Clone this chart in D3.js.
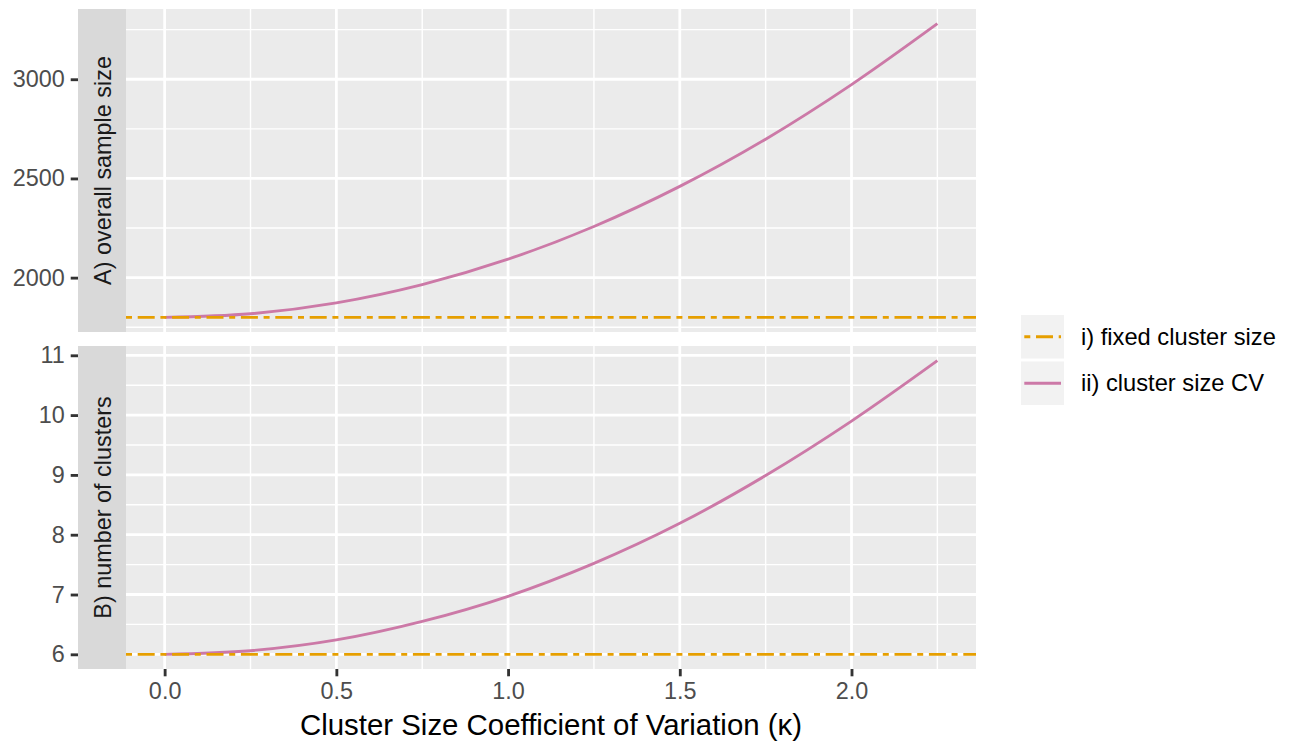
<!DOCTYPE html>
<html>
<head>
<meta charset="utf-8">
<script src="https://cdn.jsdelivr.net/npm/d3@7"></script>
<style>
  html, body { margin: 0; padding: 0; background: #ffffff; }
  svg { display: block; font-family: "Liberation Sans", Arial, Helvetica, sans-serif; }
</style>
</head>
<body>
<svg id="chart" width="1294" height="742"></svg>
<script>
// ---- data ----
const kappa = [0, 0.25, 0.5, 0.75, 1.0, 1.25, 1.5, 1.75, 2.0, 2.25];
const sampleSizeCV = [1800, 1818, 1873, 1965, 2093, 2258, 2460, 2698, 2973, 3280];
const clustersCV = [6, 6.06, 6.24, 6.55, 6.97, 7.52, 8.19, 8.99, 9.90, 10.91];
const sampleSizeFixed = 1800;
const clustersFixed = 6;
const xTicks = [0, 0.5, 1.0, 1.5, 2.0];
const xMinor = [0.25, 0.75, 1.25, 1.75, 2.25];
const topTicks = [2000, 2500, 3000];
const topMinor = [1750, 2250, 2750, 3250];
const bottomTicks = [6, 7, 8, 9, 10, 11];
const bottomMinor = [6.5, 7.5, 8.5, 9.5, 10.5];
const panelLabels = ["A) overall sample size", "B) number of clusters"];
const legendLabels = ["i) fixed cluster size", "ii) cluster size CV"];
const seriesColors = ["#E69F00", "#CC79A7"];
const xTitle = "Cluster Size Coefficient of Variation (\u03BA)";

// ---- layout ----
const svg = d3.select("#chart");
const panelL = 126, panelR = 976;
const panels = [
  { top: 9, bottom: 332, cv: sampleSizeCV, fixed: sampleSizeFixed, ticks: topTicks, minor: topMinor, fmt: d3.format("d"), label: panelLabels[0] },
  { top: 346, bottom: 669, cv: clustersCV, fixed: clustersFixed, ticks: bottomTicks, minor: bottomMinor, fmt: d3.format("d"), label: panelLabels[1] }
];
const dash = "6 5.7 17 5.7";
const fontSize = 23.4;

function expand(lo, hi) { const p = (hi - lo) * 0.05; return [lo - p, hi + p]; }

const xDom = expand(d3.min(kappa), d3.max(kappa));
const x = d3.scaleLinear().domain(xDom).range([panelL, panelR]);

panels.forEach(p => {
  const all = p.cv.concat([p.fixed]);
  const y = d3.scaleLinear().domain(expand(d3.min(all), d3.max(all))).range([p.bottom, p.top]);
  const g = svg.append("g");
  // background
  g.append("rect").attr("x", panelL).attr("y", p.top).attr("width", panelR - panelL).attr("height", p.bottom - p.top).attr("fill", "#EBEBEB");
  // minor grid
  g.selectAll(".ymin").data(p.minor.filter(v => y(v) >= p.top && y(v) <= p.bottom)).join("line")
    .attr("x1", panelL).attr("x2", panelR).attr("y1", d => y(d)).attr("y2", d => y(d))
    .attr("stroke", "#ffffff").attr("stroke-width", 1.4);
  g.selectAll(".xmin").data(xMinor).join("line")
    .attr("x1", d => x(d)).attr("x2", d => x(d)).attr("y1", p.top).attr("y2", p.bottom)
    .attr("stroke", "#ffffff").attr("stroke-width", 1.4);
  // major grid
  g.selectAll(".ymaj").data(p.ticks).join("line")
    .attr("x1", panelL).attr("x2", panelR).attr("y1", d => y(d)).attr("y2", d => y(d))
    .attr("stroke", "#ffffff").attr("stroke-width", 2.8);
  g.selectAll(".xmaj").data(xTicks).join("line")
    .attr("x1", d => x(d)).attr("x2", d => x(d)).attr("y1", p.top).attr("y2", p.bottom)
    .attr("stroke", "#ffffff").attr("stroke-width", 2.8);
  // CV curve
  const line = d3.line().x((d, i) => x(kappa[i])).y(d => y(d)).curve(d3.curveCatmullRom.alpha(0.5));
  g.append("path").datum(p.cv).attr("d", line).attr("fill", "none")
    .attr("stroke", seriesColors[1]).attr("stroke-width", 2.85);
  // fixed hline
  g.append("line").attr("x1", panelL).attr("x2", panelR).attr("y1", y(p.fixed)).attr("y2", y(p.fixed))
    .attr("stroke", seriesColors[0]).attr("stroke-width", 2.85).attr("stroke-dasharray", dash);
  // strip
  g.append("rect").attr("x", 78).attr("y", p.top).attr("width", 48).attr("height", p.bottom - p.top).attr("fill", "#D9D9D9");
  g.append("text").attr("transform", `translate(103,${(p.top + p.bottom) / 2}) rotate(-90)`)
    .attr("text-anchor", "middle").attr("dy", "0.35em").attr("fill", "#1A1A1A")
    .attr("font-size", fontSize).text(p.label);
  // y axis
  const yAxis = d3.axisLeft(y).tickValues(p.ticks).tickFormat(p.fmt).tickSize(7.3).tickPadding(6);
  const ga = g.append("g").attr("transform", "translate(78,0)").call(yAxis);
  ga.select(".domain").remove();
  ga.selectAll(".tick line").attr("stroke", "#333333").attr("stroke-width", 2.85);
  ga.selectAll(".tick text").attr("fill", "#4D4D4D").attr("font-size", fontSize)
    .attr("font-family", "Liberation Sans, Arial, sans-serif");
});

// x axis
const xAxis = d3.axisBottom(x).tickValues(xTicks).tickFormat(d3.format(".1f")).tickSize(7.3).tickPadding(6);
const gx = svg.append("g").attr("transform", "translate(0,669)").call(xAxis);
gx.select(".domain").remove();
gx.selectAll(".tick line").attr("stroke", "#333333").attr("stroke-width", 2.85);
gx.selectAll(".tick text").attr("fill", "#4D4D4D").attr("font-size", fontSize)
  .attr("font-family", "Liberation Sans, Arial, sans-serif").attr("dy", "0.72em");

// x title
svg.append("text").attr("x", (panelL + panelR) / 2).attr("y", 735).attr("text-anchor", "middle")
  .attr("font-size", 29.4).attr("fill", "#000000").text(xTitle);

// legend
const legendKeys = [{ y: 315, dash: dash, color: seriesColors[0] }, { y: 361.5, dash: null, color: seriesColors[1] }];
legendKeys.forEach((k, i) => {
  svg.append("rect").attr("x", 1021).attr("y", k.y).attr("width", 43).attr("height", 43.5).attr("fill", "#F2F2F2");
  const ln = svg.append("line").attr("x1", 1024.3).attr("x2", 1061).attr("y1", k.y + 21.7).attr("y2", k.y + 21.7)
    .attr("stroke", k.color).attr("stroke-width", 2.85);
  if (k.dash) ln.attr("stroke-dasharray", k.dash);
  svg.append("text").attr("x", 1081).attr("y", k.y + 21.7).attr("dy", "0.35em")
    .attr("font-size", 23.7).attr("fill", "#000000").text(legendLabels[i]);
});
</script>
</body>
</html>
